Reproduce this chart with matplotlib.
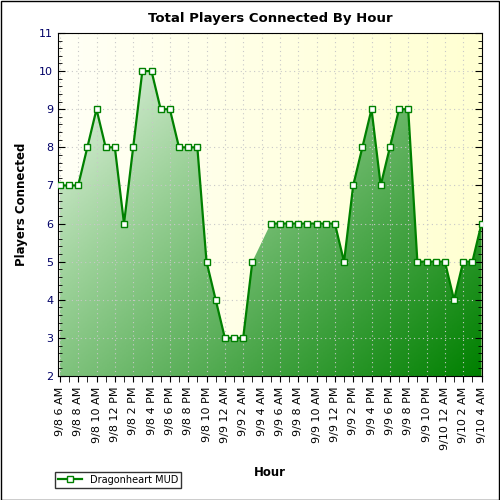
import numpy as np
import matplotlib
matplotlib.use("Agg")
import matplotlib.pyplot as plt
from matplotlib.colors import LinearSegmentedColormap
from matplotlib.lines import Line2D

labels_every2 = ["9/8 6 AM","9/8 8 AM","9/8 10 AM","9/8 12 PM","9/8 2 PM","9/8 4 PM","9/8 6 PM",
    "9/8 8 PM","9/8 10 PM","9/9 12 AM","9/9 2 AM","9/9 4 AM","9/9 6 AM","9/9 8 AM","9/9 10 AM",
    "9/9 12 PM","9/9 2 PM","9/9 4 PM","9/9 6 PM","9/9 8 PM","9/9 10 PM","9/10 12 AM","9/10 2 AM","9/10 4 AM"]
players = [7,7,7,8,9,8,8,6,8,10,10,9,9,8,8,8,5,4,3,3,3,5,np.nan,
           6,6,6,6,6,6,6,6,5,7,8,9,7,8,9,9,5,5,5,5,4,5,5,6]

fig = plt.figure(figsize=(5,5), dpi=100)
fig.patch.set_facecolor("white")
ax = fig.add_axes([0.116, 0.248, 0.848, 0.686])
x = np.arange(len(players))
y = np.array(players, dtype=float)
ok = ~np.isnan(y)
yf = np.interp(x, x[ok], y[ok])

x0, x1 = -0.2, len(players)-1+0.05
ax.set_xlim(x0, x1)
ax.set_ylim(2, 11)
bg = LinearSegmentedColormap.from_list("bg", ["#fffff6", "#ffffd2"])
gx = np.linspace(0,1,200)[None,:]
ax.imshow(gx, extent=[x0, x1, 2, 11], aspect="auto", cmap=bg, zorder=0)
cm = LinearSegmentedColormap.from_list("g", ["#f4faf2", "#9dd29a", "#4da84c", "#008000"])
X, Y = np.meshgrid(np.linspace(0,1,200), np.linspace(0,1,200))
G = X*0.55 + Y*0.45
im = ax.imshow(G, extent=[x0, x1, 2, 11], origin="upper", aspect="auto", cmap=cm, zorder=1)
poly = ax.fill_between(x, 2, yf, color="none", zorder=1)
im.set_clip_path(poly.get_paths()[0], transform=ax.transData)

ax.plot(x, y, color="#008000", lw=1.6, marker="s", ms=5, mfc="white", mec="#008000", mew=1, zorder=3)

ax.set_yticks(range(2,12))
ax.set_yticks(np.arange(2,11.01,0.2), minor=True)
ax.set_xticks(np.arange(0,len(players),2))
ax.set_xticks(x, minor=True)
ax.set_xticklabels(labels_every2, rotation=90, fontsize=8)
ax.tick_params(axis="y", labelsize=8, labelcolor="#000066", direction="in", right=True, length=5)
ax.tick_params(axis="y", which="minor", direction="in", right=True, length=3)
ax.tick_params(axis="x", which="both", direction="out", length=4)
ax.grid(True, which="major", color="#c8c8c8", ls=(0,(1,3)), lw=0.8, zorder=0.5)
ax.set_title("Total Players Connected By Hour", fontsize=9.5, fontweight="bold", pad=8)
ax.set_ylabel("Players Connected", fontsize=8.5, fontweight="bold", labelpad=8)
ax.set_xlabel("Hour", fontsize=8.5, fontweight="bold", labelpad=12)

h = Line2D([0],[0], color="#008000", lw=1.6, marker="s", ms=5, mfc="white", mec="#008000")
fig.legend([h], ["Dragonheart MUD"], loc="lower left", bbox_to_anchor=(0.1, 0.015), fontsize=7,
           frameon=True, fancybox=False, edgecolor="black", handlelength=2.5, borderpad=0.3)
fig.add_artist(plt.Rectangle((0.001,0.001),0.997,0.997, transform=fig.transFigure, fill=False, ec="black", lw=1))
fig.savefig("out.png", dpi=100)
